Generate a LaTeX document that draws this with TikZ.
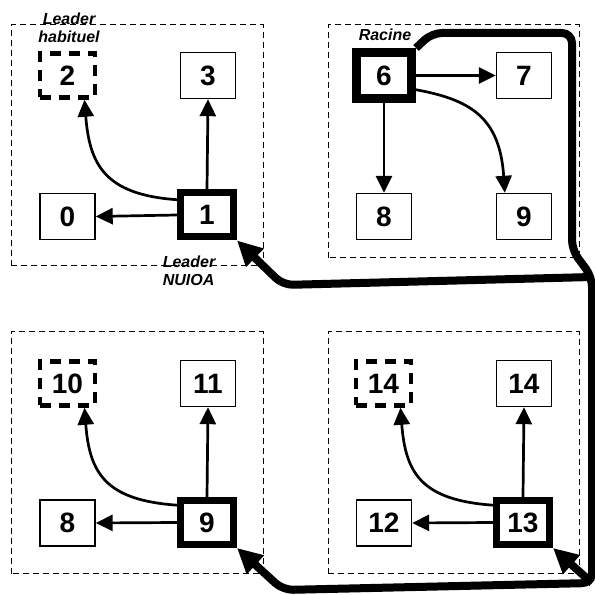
\documentclass[tikz,border=0pt]{standalone}
\usepackage{fontspec}
\setmainfont{Liberation Sans}
\usetikzlibrary{arrows.meta}

\begin{document}
\begin{tikzpicture}[x=1pt, y=1pt, >={Triangle[length=17pt,width=16pt]},
    noeud/.style={draw, line width=1.4pt, minimum width=55pt, minimum height=46pt,
        inner sep=0pt, font=\fontsize{28}{30}\selectfont\bfseries},
    leader/.style={noeud, line width=7pt, minimum width=53pt, minimum height=44pt},
    racine/.style={noeud, line width=9pt, minimum width=55pt, minimum height=46pt},
    habituel/.style={noeud, line width=4.5pt, dash pattern=on 11pt off 8pt, minimum height=44pt},
    groupe/.style={draw, line width=1pt, dash pattern=on 6pt off 4pt},
    fleche/.style={->, line width=2.7pt},
    route/.style={line width=8pt, rounded corners=10pt, line join=round,
        -{Triangle[length=25pt,width=24pt]}},
    etiquette/.style={font=\fontsize{16}{18}\selectfont\bfseries\itshape, align=center}]
    \useasboundingbox (0,0) rectangle (595,595);

    % les quatre groupes
    \draw[groupe] (11,329) rectangle (263,570);
    \draw[groupe] (328,337) rectangle (579,570);
    \draw[groupe] (11,21) rectangle (263,263);
    \draw[groupe] (328,21) rectangle (579,263);

    % groupe en haut a gauche
    \node[habituel] (a2) at (67.5,519.5) {2};
    \node[noeud] (a3) at (208,519.5) {3};
    \node[noeud] (a0) at (67.5,378.5) {0};
    \node[leader] (a1) at (207,380) {1};
    \draw[fleche] (a1.west) -- (a0.east);
    \draw[fleche] (a1.north) -- (a3.south);
    \draw[fleche] (a1.153) .. controls +(-72,5) and +(5,-65) .. (a2.-55);
    \node[etiquette] (lhab) at (69,567) {Leader\\habituel};
    \node[etiquette, align=left] (lnuioa) at (189,324) {Leader\\NUIOA};

    % groupe en haut a droite (racine)
    \node[racine] (b6) at (384,519.5) {6};
    \node[noeud] (b7) at (524,519.5) {7};
    \node[noeud] (b8) at (384,378.5) {8};
    \node[noeud] (b9) at (524,378.5) {9};
    \draw[fleche] (b6.east) -- (b7.west);
    \draw[fleche] (b6.south) -- (b8.north);
    \draw[fleche] (b6.-24) .. controls +(55,-10) and +(-5,75) .. (b9.129);
    \node[etiquette] (lracine) at (385,560) {Racine};

    % groupe en bas a gauche
    \node[habituel] (c10) at (67.5,211.5) {10};
    \node[noeud] (c11) at (208,211.5) {11};
    \node[noeud] (c8) at (67.5,72) {8};
    \node[leader] (c9) at (207,72.5) {9};
    \draw[fleche] (c9.west) -- (c8.east);
    \draw[fleche] (c9.north) -- (c11.south);
    \draw[fleche] (c9.150) .. controls +(-72,5) and +(5,-65) .. (c10.-55);

    % groupe en bas a droite
    \node[habituel] (d14h) at (383.5,211.5) {14};
    \node[noeud] (d14) at (524,211.5) {14};
    \node[noeud] (d12) at (384,72) {12};
    \node[leader] (d13) at (523,72.5) {13};
    \draw[fleche] (d13.west) -- (d12.east);
    \draw[fleche] (d13.north) -- (d14.south);
    \draw[fleche] (d13.150) .. controls +(-72,5) and +(5,-65) .. (d14h.-55);

    % chemin de diffusion depuis la racine
    \coordinate (coin) at (432,562);
    \coordinate (haut) at (572,562);
    \coordinate (descente) at (572,345);
    \coordinate (split1) at (592,318);
    \coordinate (split2) at (592,12);
    \coordinate (bas) at (283,5);
    \coordinate (milieu) at (283,310);
    \draw[route] (b6.north east) -- (coin) -- (haut) -- (descente) -- (split1)
        -- (split2) -- (bas) -- (c9.south east);
    \draw[route] (split1) -- (milieu) -- (a1.south east);
    \draw[route] (split2) -- (d13.south east);
\end{tikzpicture}
\end{document}
